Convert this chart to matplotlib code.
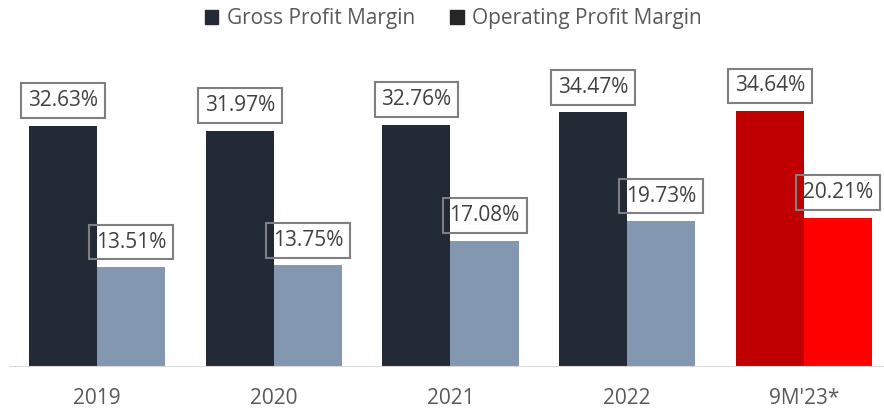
import numpy as np
import matplotlib.pyplot as plt
from matplotlib.patches import Patch

years = ['2019', '2020', '2021', '2022', "9M'23*"]
gross = [32.63, 31.97, 32.76, 34.47, 34.64]
operating = [13.51, 13.75, 17.08, 19.73, 20.21]

gross_colors = ['#222A35', '#222A35', '#222A35', '#222A35', '#C00000']
oper_colors = ['#8497B0', '#8497B0', '#8497B0', '#8497B0', '#FF0000']

plt.rcParams['font.family'] = ['Open Sans', 'DejaVu Sans']

fig = plt.figure(figsize=(8.84, 4.11), dpi=100)
# axes spans full width, baseline at 367px from top
ax = fig.add_axes([0.0, 44 / 411, 1.0, 317 / 411])

x = np.arange(len(years))
w = 0.385
ax.bar(x - w / 2, gross, width=w, color=gross_colors)
ax.bar(x + w / 2, operating, width=w, color=oper_colors)

box = dict(boxstyle='square,pad=0.33', fc='none', ec='#7F7F7F', lw=1.5)
for i in range(len(years)):
    ax.annotate(f'{gross[i]:.2f}%', (x[i] - w / 2, gross[i]), xytext=(0, 10.5),
                textcoords='offset points', ha='center', va='bottom',
                fontsize=15, color='#404040', bbox=box)
    ax.annotate(f'{operating[i]:.2f}%', (x[i] + w / 2, operating[i]), xytext=(0, 10.5),
                textcoords='offset points', ha='center', va='bottom',
                fontsize=15, color='#404040', bbox=box)

ax.set_xlim(-0.549, 4.453)
ax.set_ylim(0, 317 / 7.39)
for s in ax.spines.values():
    s.set_visible(False)
ax.axhline(0, xmin=0.011, xmax=1, color='#D9D9D9', lw=1.5)
ax.set_yticks([])
ax.set_xticks(x)
ax.set_xticklabels(years, fontsize=15, color='#595959')
ax.tick_params(axis='x', length=0, pad=15)

handles = [Patch(color='#222A35', label='Gross Profit Margin'),
           Patch(color='#262626', label='Operating Profit Margin')]
fig.legend(handles=handles, loc='upper center', bbox_to_anchor=(0.513, 1.025), ncol=2,
           frameon=False, fontsize=15, labelcolor='#595959',
           handlelength=0.65, handleheight=0.65, handletextpad=0.4, columnspacing=1.7)

fig.savefig('out.png', dpi=100)
